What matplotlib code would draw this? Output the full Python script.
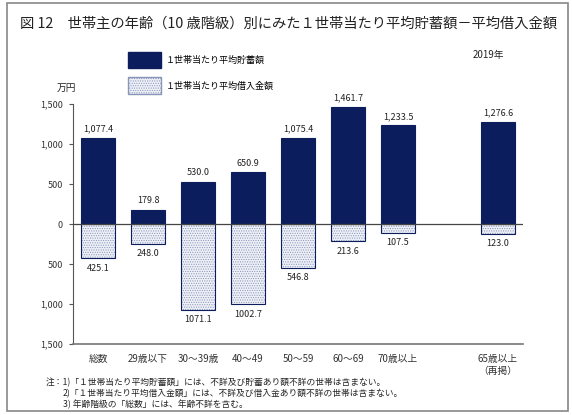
import numpy as np
import matplotlib
matplotlib.use('Agg')
import matplotlib.pyplot as plt
from matplotlib.patches import Rectangle, Patch

plt.rcParams['font.family'] = ['Noto Sans CJK JP', 'DejaVu Sans']
plt.rcParams['hatch.linewidth'] = 0.5

# donnees (万円)
categories = ['総数', '29歳以下', '30～39歳', '40～49', '50～59', '60～69', '70歳以上', '65歳以上\n（再掲）']
positions = [0, 1, 2, 3, 4, 5, 6, 8]
savings = [1077.4, 179.8, 530.0, 650.9, 1075.4, 1461.7, 1233.5, 1276.6]
borrowings = [425.1, 248.0, 1071.1, 1002.7, 546.8, 213.6, 107.5, 123.0]
savings_labels = ['1,077.4', '179.8', '530.0', '650.9', '1,075.4', '1,461.7', '1,233.5', '1,276.6']
borrow_labels = ['425.1', '248.0', '1071.1', '1002.7', '546.8', '213.6', '107.5', '123.0']
yticks = [1500, 1000, 500, 0, -500, -1000, -1500]
ytick_labels = ['1,500', '1,000', '500', '0', '500', '1,000', '1,500']

navy = '#0b1d5c'
W, H = 572, 415
fig = plt.figure(figsize=(W / 100, H / 100), dpi=100)
ax = fig.add_axes([72.5 / W, 1 - 344 / H, (523 - 72.5) / W, 240 / H])

w = 0.68
neg = [-b for b in borrowings]
ax.bar(positions, savings, width=w, color=navy, edgecolor=navy, linewidth=0.8, zorder=2)
# barres hachurees : motif puis contour
ax.bar(positions, neg, width=w, color='#eef0f7', edgecolor='#8a96b8', hatch='.......', linewidth=0, zorder=2)
ax.bar(positions, neg, width=w, color='none', edgecolor=navy, linewidth=0.8, zorder=3)

for x, v, t in zip(positions, savings, savings_labels):
    ax.text(x, v + 55, t, ha='center', va='bottom', fontsize=6.5, color='#222222')
for x, v, t in zip(positions, borrowings, borrow_labels):
    ax.text(x, -v - 70, t, ha='center', va='top', fontsize=6.5, color='#222222')

ax.axhline(0, color='#444444', linewidth=0.9, zorder=4)
ax.set_xlim(-0.51, 8.5)
ax.set_ylim(-1500, 1500)
ax.set_yticks(yticks)
ax.set_yticklabels(ytick_labels, fontsize=6.5, color='#333333')
ax.set_xticks(positions)
ax.set_xticklabels(categories, fontsize=7, color='#333333', linespacing=1.3)
ax.tick_params(axis='x', length=0, pad=7)
ax.tick_params(axis='y', length=3, width=0.8, direction='out', pad=4, color='#555555')
for s in ['top', 'right']:
    ax.spines[s].set_visible(False)
ax.spines['left'].set_color('#555555')
ax.spines['bottom'].set_color('#777777')
ax.spines['bottom'].set_linewidth(1.2)

# legende
handles = [Patch(facecolor=navy, edgecolor=navy),
           Patch(facecolor='#eef0f7', edgecolor='#8a96b8', hatch='.......')]
fig.legend(handles, ['１世帯当たり平均貯蓄額', '１世帯当たり平均借入金額'],
           loc='upper left', bbox_to_anchor=(120 / W, 1 - 44 / H), frameon=False,
           fontsize=6.5, handlelength=3.6, handleheight=2.4, labelspacing=1.0, handletextpad=0.6)

fig.text(20 / W, 1 - 24 / H, '図 12　世帯主の年齢（10 歳階級）別にみた１世帯当たり平均貯蓄額－平均借入金額',
         fontsize=10.3, va='center', ha='left', color='#222222')
fig.text(488 / W, 1 - 55 / H, '2019年', fontsize=7, ha='center', va='center', color='#222222')
fig.text(66 / W, 1 - 88 / H, '万円', fontsize=7, ha='center', va='center', color='#222222')

notes = ['注：1)「１世帯当たり平均貯蓄額」には、不詳及び貯蓄あり額不詳の世帯は含まない。',
         '2)「１世帯当たり平均借入金額」には、不詳及び借入金あり額不詳の世帯は含まない。',
         '3) 年齢階級の「総数」には、年齢不詳を含む。']
fig.text(46 / W, 1 - 383 / H, notes[0], fontsize=6.3, va='center', color='#222222')
fig.text(63 / W, 1 - 394 / H, notes[1], fontsize=6.3, va='center', color='#222222')
fig.text(63 / W, 1 - 404 / H, notes[2], fontsize=6.3, va='center', color='#222222')

# cadre exterieur
fig.patches.append(Rectangle((7 / W, 4 / H), 561 / W, 408 / H, transform=fig.transFigure,
                             fill=False, edgecolor='#888888', linewidth=1.2))

fig.savefig('out.png', dpi=100)
